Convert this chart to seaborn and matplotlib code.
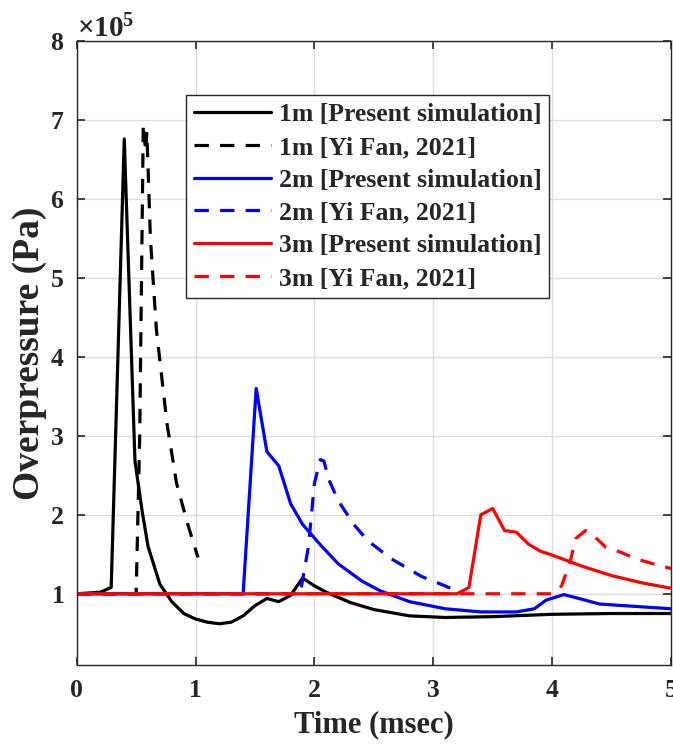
import pandas as pd
import matplotlib
matplotlib.use("Agg")
import matplotlib.pyplot as plt
from matplotlib.ticker import ScalarFormatter
import seaborn as sns

# time in msec, overpressure in 1e5 Pa
t_1m_sim = [0, 0.2, 0.29, 0.40, 0.49, 0.55, 0.6, 0.7, 0.8, 0.9, 1.0, 1.1, 1.2, 1.3, 1.4,
            1.5, 1.6, 1.7, 1.8, 1.9, 2.0, 2.1, 2.3, 2.5, 2.8, 3.1, 3.5, 4.0, 4.5, 5.0]
p_1m_sim = [1.0, 1.02, 1.08, 6.76, 2.68, 2.05, 1.6, 1.12, 0.90, 0.75, 0.68, 0.64, 0.62, 0.64, 0.72,
            0.85, 0.94, 0.90, 0.98, 1.20, 1.10, 1.02, 0.89, 0.80, 0.72, 0.70, 0.71, 0.74, 0.75, 0.75]

t_1m_fan = [0, 0.5, 0.53, 0.56, 0.58, 0.59, 0.62, 0.67, 0.76, 0.84, 0.93, 1.02]
p_1m_fan = [1.0, 1.0, 3.0, 6.95, 6.6, 6.85, 5.5, 4.35, 3.15, 2.4, 1.9, 1.46]

t_2m_sim = [0, 1.40, 1.51, 1.60, 1.70, 1.80, 1.9, 2.05, 2.2, 2.4, 2.55, 2.8, 3.1, 3.4, 3.7,
            3.85, 3.95, 4.1, 4.25, 4.4, 4.7, 5.0]
p_2m_sim = [1.0, 1.0, 3.60, 2.80, 2.62, 2.14, 1.88, 1.62, 1.38, 1.16, 1.04, 0.90, 0.81, 0.77, 0.77,
            0.81, 0.92, 0.99, 0.93, 0.87, 0.84, 0.81]

t_2m_fan = [0, 1.88, 1.95, 2.0, 2.05, 2.08, 2.12, 2.2, 2.33, 2.45, 2.65, 2.9, 3.1, 3.2]
p_2m_fan = [1.0, 1.0, 1.6, 2.4, 2.70, 2.68, 2.45, 2.18, 1.88, 1.67, 1.44, 1.22, 1.10, 1.03]

t_3m_sim = [0, 3.2, 3.3, 3.4, 3.5, 3.6, 3.7, 3.8, 3.9, 4.0, 4.25, 4.5, 4.75, 5.0]
p_3m_sim = [1.0, 1.0, 1.08, 2.0, 2.08, 1.80, 1.78, 1.63, 1.54, 1.49, 1.35, 1.23, 1.14, 1.07]

t_3m_fan = [0, 4.0, 4.08, 4.15, 4.2, 4.28, 4.34, 4.45, 4.57, 4.71, 4.85, 5.0]
p_3m_fan = [1.0, 1.0, 1.1, 1.4, 1.7, 1.80, 1.75, 1.59, 1.53, 1.44, 1.38, 1.32]

series = [
    ("1m [Present simulation]", t_1m_sim, p_1m_sim, "#000000", "-"),
    ("1m [Yi Fan, 2021]", t_1m_fan, p_1m_fan, "#000000", (0, (4.5, 3.5))),
    ("2m [Present simulation]", t_2m_sim, p_2m_sim, "#0000ff", "-"),
    ("2m [Yi Fan, 2021]", t_2m_fan, p_2m_fan, "#0000ff", (0, (4.5, 3.5))),
    ("3m [Present simulation]", t_3m_sim, p_3m_sim, "#ff0000", "-"),
    ("3m [Yi Fan, 2021]", t_3m_fan, p_3m_fan, "#ff0000", (0, (4.5, 3.5))),
]

sns.set_theme(style="whitegrid")
plt.rcParams["font.family"] = ["Liberation Serif", "DejaVu Serif"]
plt.rcParams["font.weight"] = "bold"
plt.rcParams["mathtext.fontset"] = "custom"
plt.rcParams["mathtext.rm"] = "Liberation Serif:bold"
plt.rcParams["mathtext.bf"] = "Liberation Serif:bold"
plt.rcParams["mathtext.default"] = "rm"

fig = plt.figure(figsize=(6.73, 7.47), dpi=100)
ax = fig.add_axes([0.114, 0.110, 0.883, 0.835])

for label, t, p, color, ls in series:
    df = pd.DataFrame({"time": t, "pressure": [v * 1e5 for v in p]})
    sns.lineplot(data=df, x="time", y="pressure", ax=ax, color=color,
                 linestyle=ls, linewidth=2.3, label=label, estimator=None)

ax.set_xlim(0, 5)
ax.set_ylim(0.1e5, 8e5)
ax.set_xticks([0, 1, 2, 3, 4, 5])
ax.set_yticks([i * 1e5 for i in range(1, 9)])

fmt = ScalarFormatter(useMathText=True)
fmt.set_powerlimits((0, 0))
ax.yaxis.set_major_formatter(fmt)
ax.yaxis.get_offset_text().set_fontsize(21)

ax.set_facecolor("white")
ax.grid(True, color="#dedede", linewidth=1.0)
for side in ["left", "right", "top", "bottom"]:
    ax.spines[side].set_visible(True)
    ax.spines[side].set_color("#262626")
    ax.spines[side].set_linewidth(1.0)

ax.tick_params(axis="both", direction="in", length=6, width=1.2, color="#262626",
               labelsize=18.5, top=True, right=True, bottom=True, left=True)
ax.tick_params(axis="x", pad=10)
ax.tick_params(axis="y", pad=9)

ax.set_xlabel("Time (msec)", fontsize=22, fontweight="bold", labelpad=6)
ax.set_ylabel("Overpressure (Pa)", fontsize=27, fontweight="bold", labelpad=2)

leg = ax.legend(loc="upper left", bbox_to_anchor=(0.184, 0.913), borderaxespad=0,
                fontsize=18.5, frameon=True, fancybox=False, handlelength=3.0,
                handletextpad=0.3, labelspacing=0.38, borderpad=0.3)
leg.get_frame().set_edgecolor("#262626")
leg.get_frame().set_linewidth(1.0)
leg.get_frame().set_alpha(1)

fig.savefig("out.png", dpi=100)
